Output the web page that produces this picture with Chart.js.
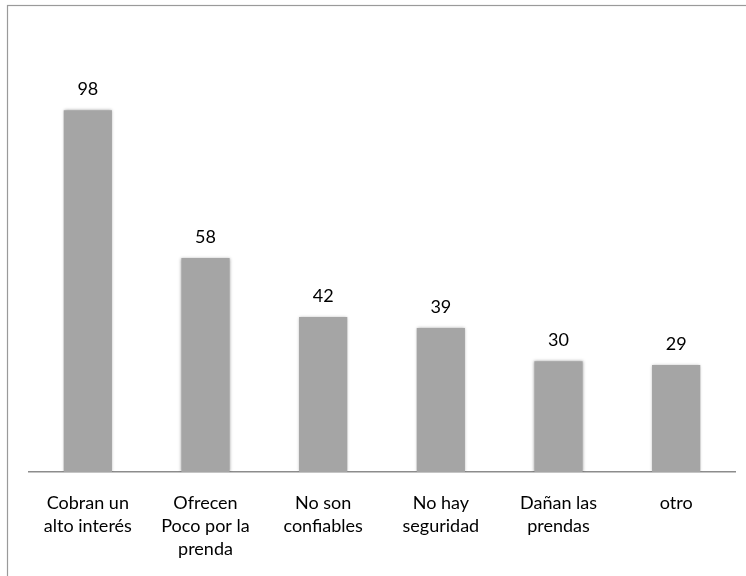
<!DOCTYPE html>
<html lang="es">
<head>
<meta charset="utf-8">
<script src="https://cdn.jsdelivr.net/npm/chart.js@4/dist/chart.umd.min.js"></script>
<style>
  html, body { margin: 0; padding: 0; background: #fff; }
  #wrap { width: 746px; height: 576px; }
</style>
</head>
<body>
<div id="wrap"><canvas id="c" width="746" height="576"></canvas></div>
<script>
// Motivos y número de respuestas
const categories = [
  ["Cobran un", "alto interés"],
  ["Ofrecen", "Poco por la", "prenda"],
  ["No son", "confiables"],
  ["No hay", "seguridad"],
  ["Dañan las", "prendas"],
  ["otro"]
];
const respuestas = [98, 58, 42, 39, 30, 29];
const yMin = 0;
const yMax = 120;

const FONT = "Lato, 'Open Sans', 'DejaVu Sans', sans-serif";

// Marco exterior del gráfico
const framePlugin = {
  id: 'frame',
  beforeDraw(chart) {
    const ctx = chart.ctx;
    ctx.save();
    ctx.fillStyle = '#ffffff';
    ctx.fillRect(0, 0, chart.width, chart.height);
    ctx.strokeStyle = '#9a9a9a';
    ctx.lineWidth = 1.2;
    ctx.strokeRect(7.5, 5.5, chart.width + 20, chart.height + 20);
    ctx.restore();
  }
};

// Sombra suave alrededor de las barras
const softBars = {
  id: 'softBars',
  beforeDatasetsDraw(chart) {
    const ctx = chart.ctx;
    ctx.save();
    ctx.shadowColor = 'rgba(0,0,0,0.35)';
    ctx.shadowBlur = 3;
  },
  afterDatasetsDraw(chart) {
    chart.ctx.restore();
  }
};

// Valor encima de cada barra
const valueLabels = {
  id: 'valueLabels',
  afterDatasetsDraw(chart) {
    const ctx = chart.ctx;
    const meta = chart.getDatasetMeta(0);
    ctx.save();
    ctx.fillStyle = '#000';
    ctx.font = "18px " + FONT;
    ctx.textAlign = 'center';
    ctx.textBaseline = 'middle';
    meta.data.forEach((bar, i) => {
      ctx.fillText(String(chart.data.datasets[0].data[i]), bar.x, bar.y - 21);
    });
    ctx.restore();
  }
};

new Chart(document.getElementById('c'), {
  type: 'bar',
  data: {
    labels: categories,
    datasets: [{
      data: respuestas,
      backgroundColor: '#a5a5a5',
      borderWidth: 0,
      barPercentage: 0.41,
      categoryPercentage: 1.0
    }]
  },
  options: {
    responsive: false,
    animation: false,
    devicePixelRatio: 1,
    layout: { padding: { left: 29, right: 11, top: 29, bottom: 0 } },
    plugins: {
      legend: { display: false },
      tooltip: { enabled: false },
      title: { display: false }
    },
    scales: {
      x: {
        grid: { display: false, drawTicks: false },
        border: { display: true, color: '#8c8c8c', width: 1.5 },
        ticks: {
          color: '#000',
          font: { family: FONT, size: 18, lineHeight: 1.3 },
          padding: 19,
          maxRotation: 0,
          minRotation: 0,
          autoSkip: false
        },
        afterFit(scale) { scale.height = 104; }
      },
      y: {
        display: false,
        min: yMin,
        max: yMax
      }
    }
  },
  plugins: [framePlugin, softBars, valueLabels]
});
</script>
</body>
</html>
